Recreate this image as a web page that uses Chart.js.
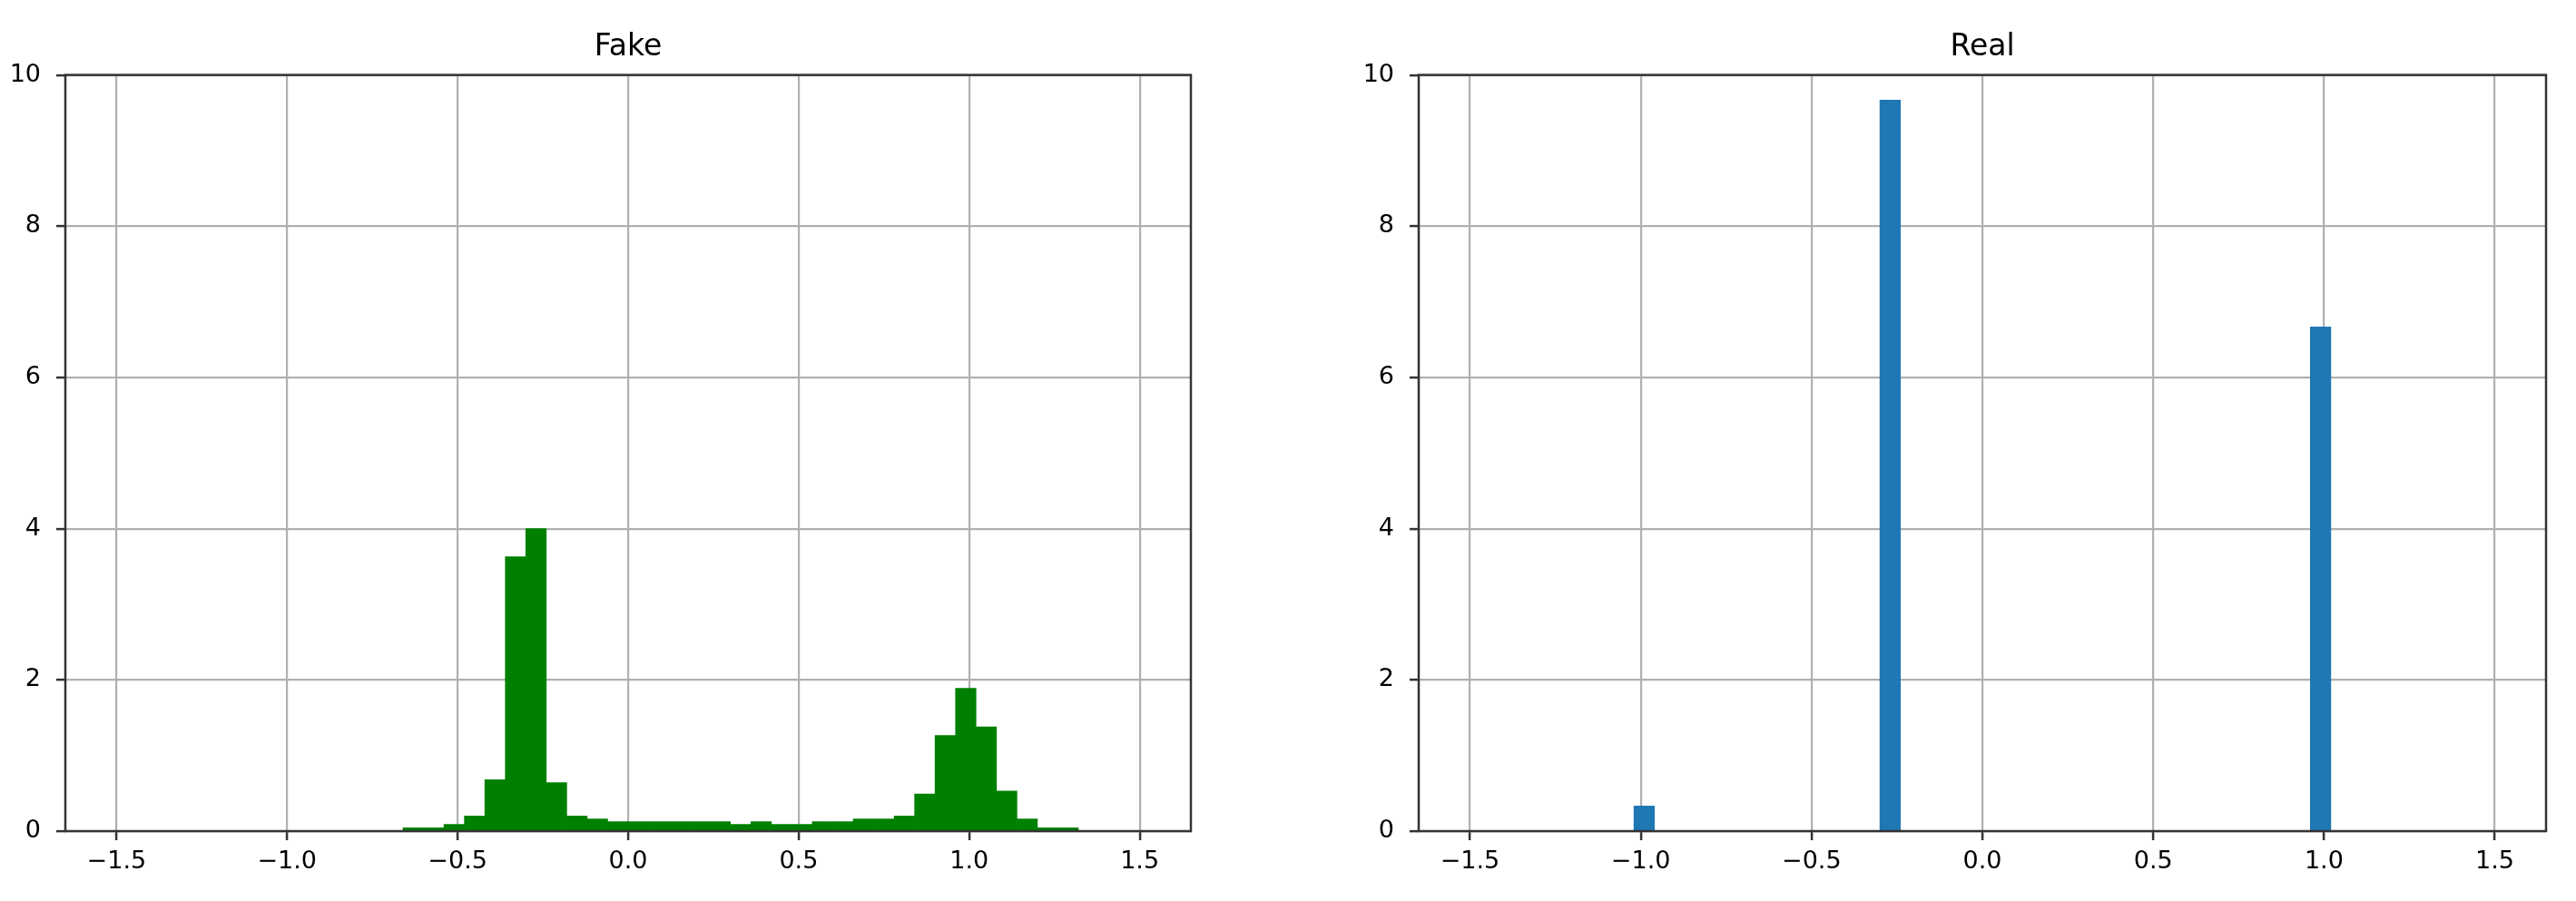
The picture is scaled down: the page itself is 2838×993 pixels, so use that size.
<!DOCTYPE html>
<html>
<head>
<meta charset="utf-8">
<script src="https://cdn.jsdelivr.net/npm/chart.js@4"></script>
<style>
    body { margin: 0; background: #fff; width: 2838px; height: 993px; overflow: hidden; }
    .painel { position: absolute; top: 0; height: 993px; }
    #painelFake { left: 0; width: 1400px; }
    #painelReal { left: 1490px; width: 1348px; }
</style>
</head>
<body>
<div class="painel" id="painelFake"><canvas id="graficoFake"></canvas></div>
<div class="painel" id="painelReal"><canvas id="graficoReal"></canvas></div>
<script>
// centros dos 50 bins (largura 0.06, de -1.5 a 1.5)
const binCenters = [
    -1.47, -1.41, -1.35, -1.29, -1.23, -1.17, -1.11, -1.05, -0.99, -0.93,
    -0.87, -0.81, -0.75, -0.69, -0.63, -0.57, -0.51, -0.45, -0.39, -0.33,
    -0.27, -0.21, -0.15, -0.09, -0.03, 0.03, 0.09, 0.15, 0.21, 0.27,
    0.33, 0.39, 0.45, 0.51, 0.57, 0.63, 0.69, 0.75, 0.81, 0.87,
    0.93, 0.99, 1.05, 1.11, 1.17, 1.23, 1.29, 1.35, 1.41, 1.47
];

const fakeDensity = [
    0, 0, 0, 0, 0, 0, 0, 0, 0, 0,
    0, 0, 0, 0, 0.044, 0.044, 0.088, 0.20, 0.68, 3.63,
    4.00, 0.64, 0.20, 0.16, 0.125, 0.125, 0.125, 0.125, 0.125, 0.125,
    0.088, 0.125, 0.088, 0.088, 0.125, 0.125, 0.16, 0.16, 0.20, 0.49,
    1.265, 1.89, 1.38, 0.53, 0.16, 0.044, 0.044, 0, 0, 0
];

const realDensity = [
    0, 0, 0, 0, 0, 0, 0, 0, 0.333, 0,
    0, 0, 0, 0, 0, 0, 0, 0, 0, 0,
    9.667, 0, 0, 0, 0, 0, 0, 0, 0, 0,
    0, 0, 0, 0, 0, 0, 0, 0, 0, 0,
    0, 6.667, 0, 0, 0, 0, 0, 0, 0, 0
];

const xTickValues = [-1.5, -1.0, -0.5, 0.0, 0.5, 1.0, 1.5];
const xTickLabels = ['\u22121.5', '\u22121.0', '\u22120.5', '0.0', '0.5', '1.0', '1.5'];
const yTickValues = [0, 2, 4, 6, 8, 10];
const yTickLabels = ['0', '2', '4', '6', '8', '10'];

const fonte = 'DejaVu Sans';

// moldura completa da área do gráfico (como no matplotlib)
const moldura = {
    id: 'moldura',
    afterDraw(chart) {
        const { ctx, chartArea: a } = chart;
        ctx.save();
        ctx.strokeStyle = '#333';
        ctx.lineWidth = 2.5;
        ctx.strokeRect(a.left, a.top, a.right - a.left, a.bottom - a.top);
        ctx.restore();
    }
};

function criarGrafico(id, titulo, valores, cor, larguraEixoY, paddingDireita) {
    const ctx = document.getElementById(id).getContext('2d');
    return new Chart(ctx, {
        type: 'bar',
        data: {
            datasets: [{
                data: binCenters.map((x, i) => ({ x: x, y: valores[i] })),
                backgroundColor: cor,
                borderWidth: 0,
                barPercentage: 1,
                categoryPercentage: 1
            }]
        },
        options: {
            responsive: true,
            maintainAspectRatio: false,
            animation: false,
            devicePixelRatio: 1,
            layout: { padding: { left: 0, right: paddingDireita, top: 0, bottom: 0 } },
            scales: {
                x: {
                    type: 'linear',
                    min: -1.65,
                    max: 1.65,
                    offset: false,
                    z: 1,  // grade por cima das barras
                    afterBuildTicks: (scale) => {
                        scale.ticks = xTickValues.map(v => ({ value: v }));
                    },
                    afterFit: (scale) => { scale.height = 77; },
                    border: { display: false },
                    grid: {
                        offset: false,
                        color: '#b0b0b0',
                        lineWidth: 2.2,
                        tickColor: '#333',
                        tickWidth: 2.5,
                        tickLength: 10
                    },
                    ticks: {
                        autoSkip: false,
                        maxRotation: 0,
                        padding: 8,
                        color: '#000',
                        font: { family: fonte, size: 27 },
                        callback: (value, index) => xTickLabels[index]
                    }
                },
                y: {
                    type: 'linear',
                    min: 0,
                    max: 10,
                    z: 1,
                    afterBuildTicks: (scale) => {
                        scale.ticks = yTickValues.map(v => ({ value: v }));
                    },
                    afterFit: (scale) => { scale.width = larguraEixoY; },
                    border: { display: false },
                    grid: {
                        color: '#b0b0b0',
                        lineWidth: 2.2,
                        tickColor: '#333',
                        tickWidth: 2.5,
                        tickLength: 10
                    },
                    ticks: {
                        padding: 17,
                        color: '#000',
                        font: { family: fonte, size: 27 },
                        callback: (value, index) => yTickLabels[index]
                    }
                }
            },
            plugins: {
                legend: { display: false },
                tooltip: { enabled: false },
                title: {
                    display: true,
                    fullSize: false,  // centraliza sobre a área do gráfico
                    text: titulo,
                    color: '#000',
                    font: { family: fonte, size: 33, weight: 'normal' },
                    padding: { top: 33, bottom: 10 }
                }
            }
        },
        plugins: [moldura]
    });
}

criarGrafico('graficoFake', 'Fake', fakeDensity, '#008000', 72, 88);
criarGrafico('graficoReal', 'Real', realDensity, '#1f77b4', 73, 33);
</script>
</body>
</html>
